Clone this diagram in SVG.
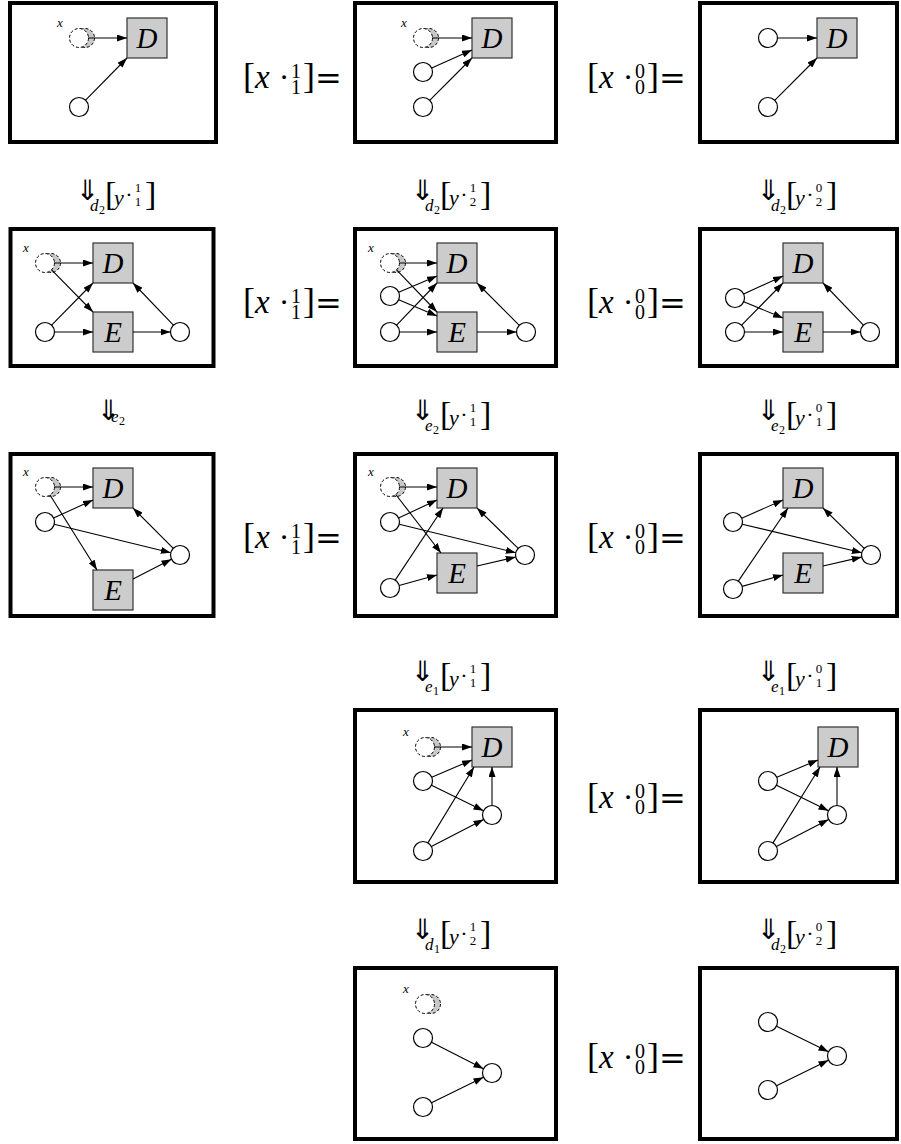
<svg xmlns="http://www.w3.org/2000/svg" width="901" height="1144" viewBox="0 0 901 1144">
<defs>
<marker id="ah" markerWidth="10" markerHeight="7" refX="10" refY="3.5" orient="auto" markerUnits="userSpaceOnUse">
<path d="M0,0 L10,3.5 L0,7 z" fill="#000"/>
</marker>
<style>
.frame{fill:#fff;stroke:#000;stroke-width:4}
.node{fill:#fff;stroke:#000;stroke-width:1.2}
.box{fill:#cccccc;stroke:#333;stroke-width:1.2}
.gw{fill:#fff;stroke:#000;stroke-width:1;stroke-dasharray:3 2}
.gg{fill:#c8c8c8;stroke:#000;stroke-width:1;stroke-dasharray:3 2}
.edge{stroke:#000;stroke-width:1.1;fill:none;marker-end:url(#ah)}
.bl{font-family:'Liberation Serif','Times New Roman','DejaVu Serif',serif;font-style:italic;font-size:29px;text-anchor:middle}
.xl{font-family:'Liberation Serif','Times New Roman','DejaVu Serif',serif;font-style:italic;font-size:13px}
.m{font-family:'Liberation Serif','Times New Roman','DejaVu Serif',serif}
.mi{font-family:'Liberation Serif','Times New Roman','DejaVu Serif',serif;font-style:italic}
.arr{font-family:'DejaVu Sans',sans-serif;font-size:28px}
.eqs{font-family:'DejaVu Serif',serif}
</style>
</defs>
<rect width="901" height="1144" fill="#fff"/>

<g id="frames">
<rect class="frame" x="10" y="3" width="206" height="139"/>
<rect class="frame" x="355" y="3" width="201" height="139"/>
<rect class="frame" x="700" y="3" width="197" height="139"/>
<rect class="frame" x="10.5" y="229" width="203" height="137"/>
<rect class="frame" x="355" y="229" width="201" height="137"/>
<rect class="frame" x="700" y="229" width="197" height="137"/>
<rect class="frame" x="10.5" y="454" width="203" height="162"/>
<rect class="frame" x="355" y="454" width="201" height="162"/>
<rect class="frame" x="700" y="454" width="197" height="162"/>
<rect class="frame" x="355" y="710" width="201" height="172"/>
<rect class="frame" x="700" y="710" width="197" height="172"/>
<rect class="frame" x="355" y="968" width="201" height="171"/>
<rect class="frame" x="700" y="968" width="197" height="171"/>
</g>

<!-- Row 1 -->
<g id="a1-x"><circle class="gg" cx="85" cy="38" r="9.5"/><circle class="gw" cx="79" cy="38" r="9.5"/><text class="xl" x="57" y="27">x</text></g>
<g id="a1-D"><rect class="box" x="127" y="18" width="40" height="40"/><text class="bl" x="147" y="48">D</text></g>
<g id="a1-c"><circle class="node" cx="79" cy="107" r="9.5"/></g>

<g id="b1-x"><circle class="gg" cx="429" cy="38" r="9.5"/><circle class="gw" cx="423" cy="38" r="9.5"/><text class="xl" x="401" y="27">x</text></g>
<g id="b1-D"><rect class="box" x="472" y="18" width="40" height="40"/><text class="bl" x="492" y="48">D</text></g>
<g id="b1-c1"><circle class="node" cx="423" cy="72" r="9.5"/></g>
<g id="b1-c2"><circle class="node" cx="423" cy="107" r="9.5"/></g>

<g id="c1-c1"><circle class="node" cx="768" cy="38" r="9.5"/></g>
<g id="c1-D"><rect class="box" x="817" y="18" width="40" height="40"/><text class="bl" x="837" y="48">D</text></g>
<g id="c1-c2"><circle class="node" cx="768" cy="107" r="9.5"/></g>

<!-- Row 2 -->
<g id="a2-x"><circle class="gg" cx="51" cy="263" r="9.5"/><circle class="gw" cx="45" cy="263" r="9.5"/><text class="xl" x="23" y="252">x</text></g>
<g id="a2-D"><rect class="box" x="93" y="243" width="40" height="40"/><text class="bl" x="113" y="273">D</text></g>
<g id="a2-E"><rect class="box" x="93" y="312" width="40" height="40"/><text class="bl" x="113" y="342">E</text></g>
<g id="a2-c"><circle class="node" cx="45" cy="332" r="9.5"/></g>
<g id="a2-r"><circle class="node" cx="180" cy="332" r="9.5"/></g>

<g id="b2-x"><circle class="gg" cx="396" cy="263" r="9.5"/><circle class="gw" cx="390" cy="263" r="9.5"/><text class="xl" x="368" y="252">x</text></g>
<g id="b2-D"><rect class="box" x="437" y="243" width="40" height="40"/><text class="bl" x="457" y="273">D</text></g>
<g id="b2-E"><rect class="box" x="437" y="312" width="40" height="40"/><text class="bl" x="457" y="342">E</text></g>
<g id="b2-c1"><circle class="node" cx="390" cy="296" r="9.5"/></g>
<g id="b2-c2"><circle class="node" cx="390" cy="332" r="9.5"/></g>
<g id="b2-r"><circle class="node" cx="526" cy="332" r="9.5"/></g>

<g id="c2-D"><rect class="box" x="783" y="243" width="40" height="40"/><text class="bl" x="803" y="273">D</text></g>
<g id="c2-E"><rect class="box" x="783" y="312" width="40" height="40"/><text class="bl" x="803" y="342">E</text></g>
<g id="c2-c1"><circle class="node" cx="735" cy="298" r="9.5"/></g>
<g id="c2-c2"><circle class="node" cx="735" cy="332" r="9.5"/></g>
<g id="c2-r"><circle class="node" cx="870" cy="332" r="9.5"/></g>

<!-- Row 3 -->
<g id="a3-x"><circle class="gg" cx="51" cy="487" r="9.5"/><circle class="gw" cx="45" cy="487" r="9.5"/><text class="xl" x="23" y="476">x</text></g>
<g id="a3-D"><rect class="box" x="93" y="468" width="40" height="40"/><text class="bl" x="113" y="498">D</text></g>
<g id="a3-E"><rect class="box" x="93" y="570" width="40" height="40"/><text class="bl" x="113" y="600">E</text></g>
<g id="a3-c"><circle class="node" cx="45" cy="522" r="9.5"/></g>
<g id="a3-r"><circle class="node" cx="180" cy="555" r="9.5"/></g>

<g id="b3-x"><circle class="gg" cx="396" cy="487" r="9.5"/><circle class="gw" cx="390" cy="487" r="9.5"/><text class="xl" x="368" y="476">x</text></g>
<g id="b3-D"><rect class="box" x="437" y="468" width="40" height="40"/><text class="bl" x="457" y="498">D</text></g>
<g id="b3-E"><rect class="box" x="437" y="553" width="40" height="40"/><text class="bl" x="457" y="583">E</text></g>
<g id="b3-c1"><circle class="node" cx="390" cy="522" r="9.5"/></g>
<g id="b3-c2"><circle class="node" cx="390" cy="588" r="9.5"/></g>
<g id="b3-r"><circle class="node" cx="525" cy="555" r="9.5"/></g>

<g id="c3-D"><rect class="box" x="783" y="468" width="40" height="40"/><text class="bl" x="803" y="498">D</text></g>
<g id="c3-E"><rect class="box" x="783" y="553" width="40" height="40"/><text class="bl" x="803" y="583">E</text></g>
<g id="c3-c1"><circle class="node" cx="733" cy="522" r="9.5"/></g>
<g id="c3-c2"><circle class="node" cx="733" cy="589" r="9.5"/></g>
<g id="c3-r"><circle class="node" cx="871" cy="555" r="9.5"/></g>

<!-- Row 4 -->
<g id="b4-x"><circle class="gg" cx="431" cy="747" r="9.5"/><circle class="gw" cx="425" cy="747" r="9.5"/><text class="xl" x="403" y="736">x</text></g>
<g id="b4-D"><rect class="box" x="472" y="727" width="40" height="40"/><text class="bl" x="492" y="757">D</text></g>
<g id="b4-c1"><circle class="node" cx="423" cy="781" r="9.5"/></g>
<g id="b4-c2"><circle class="node" cx="423" cy="851" r="9.5"/></g>
<g id="b4-r"><circle class="node" cx="492" cy="815" r="9.5"/></g>

<g id="c4-D"><rect class="box" x="818" y="727" width="40" height="40"/><text class="bl" x="838" y="757">D</text></g>
<g id="c4-c1"><circle class="node" cx="768" cy="781" r="9.5"/></g>
<g id="c4-c2"><circle class="node" cx="768" cy="851" r="9.5"/></g>
<g id="c4-r"><circle class="node" cx="837" cy="815" r="9.5"/></g>

<!-- Row 5 -->
<g id="b5-x"><circle class="gg" cx="431" cy="1004" r="9.5"/><circle class="gw" cx="425" cy="1004" r="9.5"/><text class="xl" x="403" y="993">x</text></g>
<g id="b5-c1"><circle class="node" cx="423" cy="1038" r="9.5"/></g>
<g id="b5-c2"><circle class="node" cx="423" cy="1107" r="9.5"/></g>
<g id="b5-r"><circle class="node" cx="492" cy="1073" r="9.5"/></g>

<g id="c5-c1"><circle class="node" cx="768" cy="1022" r="9.5"/></g>
<g id="c5-c2"><circle class="node" cx="768" cy="1090" r="9.5"/></g>
<g id="c5-r"><circle class="node" cx="837" cy="1056" r="9.5"/></g>

<g id="connectors">
<line class="edge" x1="88" y1="38" x2="127" y2="38"/>
<line class="edge" x1="85.6" y1="100.2" x2="127" y2="58"/>
<line class="edge" x1="432" y1="38" x2="472" y2="38"/>
<line class="edge" x1="431.7" y1="68.1" x2="472" y2="50"/>
<line class="edge" x1="429.7" y1="100.3" x2="472" y2="58"/>
<line class="edge" x1="777.5" y1="38" x2="817" y2="38"/>
<line class="edge" x1="774.7" y1="100.3" x2="817" y2="58"/>
<line class="edge" x1="54" y1="263" x2="93" y2="263"/>
<line class="edge" x1="51.6" y1="269.8" x2="93" y2="312"/>
<line class="edge" x1="51.6" y1="325.2" x2="93" y2="283"/>
<line class="edge" x1="54.5" y1="332" x2="93" y2="332"/>
<line class="edge" x1="133" y1="332" x2="170.5" y2="332"/>
<line class="edge" x1="173.4" y1="325.1" x2="133" y2="283"/>
<line class="edge" x1="399" y1="263" x2="437" y2="263"/>
<line class="edge" x1="396.6" y1="269.9" x2="437" y2="312"/>
<line class="edge" x1="398.7" y1="292.3" x2="437" y2="276"/>
<line class="edge" x1="398.7" y1="299.7" x2="437" y2="316"/>
<line class="edge" x1="396.6" y1="325.1" x2="437" y2="283"/>
<line class="edge" x1="399.5" y1="332" x2="437" y2="332"/>
<line class="edge" x1="477" y1="332" x2="516.5" y2="332"/>
<line class="edge" x1="519.3" y1="325.3" x2="477" y2="283"/>
<line class="edge" x1="743.6" y1="294" x2="783" y2="276"/>
<line class="edge" x1="743.8" y1="301.7" x2="783" y2="318"/>
<line class="edge" x1="741.6" y1="325.2" x2="783" y2="283"/>
<line class="edge" x1="744.5" y1="332" x2="783" y2="332"/>
<line class="edge" x1="823" y1="332" x2="860.5" y2="332"/>
<line class="edge" x1="863.4" y1="325.1" x2="823" y2="283"/>
<line class="edge" x1="54" y1="487" x2="93" y2="487"/>
<line class="edge" x1="50" y1="495" x2="97" y2="570"/>
<line class="edge" x1="53.6" y1="518" x2="93" y2="500"/>
<line class="edge" x1="54.2" y1="524.3" x2="170.8" y2="552.7"/>
<line class="edge" x1="133" y1="579" x2="171.5" y2="559.3"/>
<line class="edge" x1="173.3" y1="548.3" x2="133" y2="508"/>
<line class="edge" x1="399" y1="487" x2="437" y2="487"/>
<line class="edge" x1="395.8" y1="494.5" x2="441" y2="553"/>
<line class="edge" x1="398.6" y1="518" x2="437" y2="500"/>
<line class="edge" x1="399.2" y1="524.3" x2="515.8" y2="552.7"/>
<line class="edge" x1="395.2" y1="580.1" x2="443" y2="508"/>
<line class="edge" x1="399.1" y1="585.5" x2="437" y2="575"/>
<line class="edge" x1="477" y1="566" x2="515.7" y2="557.1"/>
<line class="edge" x1="518.2" y1="548.4" x2="477" y2="508"/>
<line class="edge" x1="741.7" y1="518.2" x2="783" y2="500"/>
<line class="edge" x1="742.2" y1="524.2" x2="861.8" y2="552.8"/>
<line class="edge" x1="738.3" y1="581.1" x2="788" y2="508"/>
<line class="edge" x1="742.1" y1="586.4" x2="783" y2="575"/>
<line class="edge" x1="823" y1="566" x2="861.7" y2="557.1"/>
<line class="edge" x1="864.2" y1="548.4" x2="823" y2="508"/>
<line class="edge" x1="434" y1="747" x2="472" y2="747"/>
<line class="edge" x1="431.7" y1="777.3" x2="472" y2="760"/>
<line class="edge" x1="431.5" y1="785.2" x2="483.5" y2="810.8"/>
<line class="edge" x1="427.9" y1="842.9" x2="474" y2="767"/>
<line class="edge" x1="431.4" y1="846.6" x2="483.6" y2="819.4"/>
<line class="edge" x1="492" y1="805.5" x2="492" y2="767"/>
<line class="edge" x1="776.8" y1="777.3" x2="818" y2="760"/>
<line class="edge" x1="776.5" y1="785.2" x2="828.5" y2="810.8"/>
<line class="edge" x1="773" y1="842.9" x2="820" y2="767"/>
<line class="edge" x1="776.4" y1="846.6" x2="828.6" y2="819.4"/>
<line class="edge" x1="837" y1="805.5" x2="837" y2="767"/>
<line class="edge" x1="431.5" y1="1042.3" x2="483.5" y2="1068.7"/>
<line class="edge" x1="431.5" y1="1102.8" x2="483.5" y2="1077.2"/>
<line class="edge" x1="776.5" y1="1026.2" x2="828.5" y2="1051.8"/>
<line class="edge" x1="776.5" y1="1085.8" x2="828.5" y2="1060.2"/>
</g>

<!-- equality labels -->
<g id="eq-r1-b" transform="translate(243,88)"><text class="m" font-size="36" x="0" y="0">[</text><text class="mi" font-size="33" x="12" y="0">x</text><text class="m" font-size="32" x="41" y="0" text-anchor="middle">·</text><text class="m" font-size="20" x="53" y="-10" text-anchor="middle">1</text><text class="m" font-size="20" x="53" y="6" text-anchor="middle">1</text><text class="m" font-size="36" x="60" y="0">]</text><text class="eqs" font-size="32" x="72" y="1">=</text></g>
<g id="eq-r1-c" transform="translate(587,88)"><text class="m" font-size="36" x="0" y="0">[</text><text class="mi" font-size="33" x="12" y="0">x</text><text class="m" font-size="32" x="41" y="0" text-anchor="middle">·</text><text class="m" font-size="20" x="53" y="-10" text-anchor="middle">0</text><text class="m" font-size="20" x="53" y="6" text-anchor="middle">0</text><text class="m" font-size="36" x="60" y="0">]</text><text class="eqs" font-size="32" x="72" y="1">=</text></g>
<g id="eq-r2-b" transform="translate(243,313)"><text class="m" font-size="36" x="0" y="0">[</text><text class="mi" font-size="33" x="12" y="0">x</text><text class="m" font-size="32" x="41" y="0" text-anchor="middle">·</text><text class="m" font-size="20" x="53" y="-10" text-anchor="middle">1</text><text class="m" font-size="20" x="53" y="6" text-anchor="middle">1</text><text class="m" font-size="36" x="60" y="0">]</text><text class="eqs" font-size="32" x="72" y="1">=</text></g>
<g id="eq-r2-c" transform="translate(587,313)"><text class="m" font-size="36" x="0" y="0">[</text><text class="mi" font-size="33" x="12" y="0">x</text><text class="m" font-size="32" x="41" y="0" text-anchor="middle">·</text><text class="m" font-size="20" x="53" y="-10" text-anchor="middle">0</text><text class="m" font-size="20" x="53" y="6" text-anchor="middle">0</text><text class="m" font-size="36" x="60" y="0">]</text><text class="eqs" font-size="32" x="72" y="1">=</text></g>
<g id="eq-r3-b" transform="translate(243,548)"><text class="m" font-size="36" x="0" y="0">[</text><text class="mi" font-size="33" x="12" y="0">x</text><text class="m" font-size="32" x="41" y="0" text-anchor="middle">·</text><text class="m" font-size="20" x="53" y="-10" text-anchor="middle">1</text><text class="m" font-size="20" x="53" y="6" text-anchor="middle">1</text><text class="m" font-size="36" x="60" y="0">]</text><text class="eqs" font-size="32" x="72" y="1">=</text></g>
<g id="eq-r3-c" transform="translate(587,548)"><text class="m" font-size="36" x="0" y="0">[</text><text class="mi" font-size="33" x="12" y="0">x</text><text class="m" font-size="32" x="41" y="0" text-anchor="middle">·</text><text class="m" font-size="20" x="53" y="-10" text-anchor="middle">0</text><text class="m" font-size="20" x="53" y="6" text-anchor="middle">0</text><text class="m" font-size="36" x="60" y="0">]</text><text class="eqs" font-size="32" x="72" y="1">=</text></g>
<g id="eq-r4-c" transform="translate(587,808)"><text class="m" font-size="36" x="0" y="0">[</text><text class="mi" font-size="33" x="12" y="0">x</text><text class="m" font-size="32" x="41" y="0" text-anchor="middle">·</text><text class="m" font-size="20" x="53" y="-10" text-anchor="middle">0</text><text class="m" font-size="20" x="53" y="6" text-anchor="middle">0</text><text class="m" font-size="36" x="60" y="0">]</text><text class="eqs" font-size="32" x="72" y="1">=</text></g>
<g id="eq-r5-c" transform="translate(587,1068)"><text class="m" font-size="36" x="0" y="0">[</text><text class="mi" font-size="33" x="12" y="0">x</text><text class="m" font-size="32" x="41" y="0" text-anchor="middle">·</text><text class="m" font-size="20" x="53" y="-10" text-anchor="middle">0</text><text class="m" font-size="20" x="53" y="6" text-anchor="middle">0</text><text class="m" font-size="36" x="60" y="0">]</text><text class="eqs" font-size="32" x="72" y="1">=</text></g>

<!-- step labels -->
<g id="st-r1-a" transform="translate(76,199)"><text class="arr" x="0" y="1">⇓</text><text class="mi" font-size="17" x="14" y="12">d</text><text class="m" font-size="12" x="23" y="15">2</text><text class="m" font-size="34" x="29" y="6">[</text><text class="mi" font-size="22" x="38" y="6">y</text><text class="m" font-size="22" x="53" y="3" text-anchor="middle">·</text><text class="m" font-size="13" x="62" y="-7" text-anchor="middle">1</text><text class="m" font-size="13" x="62" y="7" text-anchor="middle">1</text><text class="m" font-size="34" x="69" y="6">]</text></g>
<g id="st-r1-b" transform="translate(411,199)"><text class="arr" x="0" y="1">⇓</text><text class="mi" font-size="17" x="14" y="12">d</text><text class="m" font-size="12" x="23" y="15">2</text><text class="m" font-size="34" x="29" y="6">[</text><text class="mi" font-size="22" x="38" y="6">y</text><text class="m" font-size="22" x="53" y="3" text-anchor="middle">·</text><text class="m" font-size="13" x="62" y="-7" text-anchor="middle">1</text><text class="m" font-size="13" x="62" y="7" text-anchor="middle">2</text><text class="m" font-size="34" x="69" y="6">]</text></g>
<g id="st-r1-c" transform="translate(757,199)"><text class="arr" x="0" y="1">⇓</text><text class="mi" font-size="17" x="14" y="12">d</text><text class="m" font-size="12" x="23" y="15">2</text><text class="m" font-size="34" x="29" y="6">[</text><text class="mi" font-size="22" x="38" y="6">y</text><text class="m" font-size="22" x="53" y="3" text-anchor="middle">·</text><text class="m" font-size="13" x="62" y="-7" text-anchor="middle">0</text><text class="m" font-size="13" x="62" y="7" text-anchor="middle">2</text><text class="m" font-size="34" x="69" y="6">]</text></g>
<g id="st-r2-a" transform="translate(97,419)"><text class="arr" x="0" y="1">⇓</text><text class="mi" font-size="17" x="14" y="3">e</text><text class="m" font-size="12" x="22" y="6">2</text></g>
<g id="st-r2-b" transform="translate(411,419)"><text class="arr" x="0" y="1">⇓</text><text class="mi" font-size="17" x="14" y="12">e</text><text class="m" font-size="12" x="22" y="15">2</text><text class="m" font-size="34" x="29" y="6">[</text><text class="mi" font-size="22" x="38" y="6">y</text><text class="m" font-size="22" x="53" y="3" text-anchor="middle">·</text><text class="m" font-size="13" x="62" y="-7" text-anchor="middle">1</text><text class="m" font-size="13" x="62" y="7" text-anchor="middle">1</text><text class="m" font-size="34" x="69" y="6">]</text></g>
<g id="st-r2-c" transform="translate(757,419)"><text class="arr" x="0" y="1">⇓</text><text class="mi" font-size="17" x="14" y="12">e</text><text class="m" font-size="12" x="22" y="15">2</text><text class="m" font-size="34" x="29" y="6">[</text><text class="mi" font-size="22" x="38" y="6">y</text><text class="m" font-size="22" x="53" y="3" text-anchor="middle">·</text><text class="m" font-size="13" x="62" y="-7" text-anchor="middle">0</text><text class="m" font-size="13" x="62" y="7" text-anchor="middle">1</text><text class="m" font-size="34" x="69" y="6">]</text></g>
<g id="st-r3-b" transform="translate(411,680)"><text class="arr" x="0" y="1">⇓</text><text class="mi" font-size="17" x="14" y="12">e</text><text class="m" font-size="12" x="22" y="15">1</text><text class="m" font-size="34" x="29" y="6">[</text><text class="mi" font-size="22" x="38" y="6">y</text><text class="m" font-size="22" x="53" y="3" text-anchor="middle">·</text><text class="m" font-size="13" x="62" y="-7" text-anchor="middle">1</text><text class="m" font-size="13" x="62" y="7" text-anchor="middle">1</text><text class="m" font-size="34" x="69" y="6">]</text></g>
<g id="st-r3-c" transform="translate(757,680)"><text class="arr" x="0" y="1">⇓</text><text class="mi" font-size="17" x="14" y="12">e</text><text class="m" font-size="12" x="22" y="15">1</text><text class="m" font-size="34" x="29" y="6">[</text><text class="mi" font-size="22" x="38" y="6">y</text><text class="m" font-size="22" x="53" y="3" text-anchor="middle">·</text><text class="m" font-size="13" x="62" y="-7" text-anchor="middle">0</text><text class="m" font-size="13" x="62" y="7" text-anchor="middle">1</text><text class="m" font-size="34" x="69" y="6">]</text></g>
<g id="st-r4-b" transform="translate(411,938)"><text class="arr" x="0" y="1">⇓</text><text class="mi" font-size="17" x="14" y="12">d</text><text class="m" font-size="12" x="23" y="15">1</text><text class="m" font-size="34" x="29" y="6">[</text><text class="mi" font-size="22" x="38" y="6">y</text><text class="m" font-size="22" x="53" y="3" text-anchor="middle">·</text><text class="m" font-size="13" x="62" y="-7" text-anchor="middle">1</text><text class="m" font-size="13" x="62" y="7" text-anchor="middle">2</text><text class="m" font-size="34" x="69" y="6">]</text></g>
<g id="st-r4-c" transform="translate(757,938)"><text class="arr" x="0" y="1">⇓</text><text class="mi" font-size="17" x="14" y="12">d</text><text class="m" font-size="12" x="23" y="15">2</text><text class="m" font-size="34" x="29" y="6">[</text><text class="mi" font-size="22" x="38" y="6">y</text><text class="m" font-size="22" x="53" y="3" text-anchor="middle">·</text><text class="m" font-size="13" x="62" y="-7" text-anchor="middle">0</text><text class="m" font-size="13" x="62" y="7" text-anchor="middle">2</text><text class="m" font-size="34" x="69" y="6">]</text></g>
</svg>
